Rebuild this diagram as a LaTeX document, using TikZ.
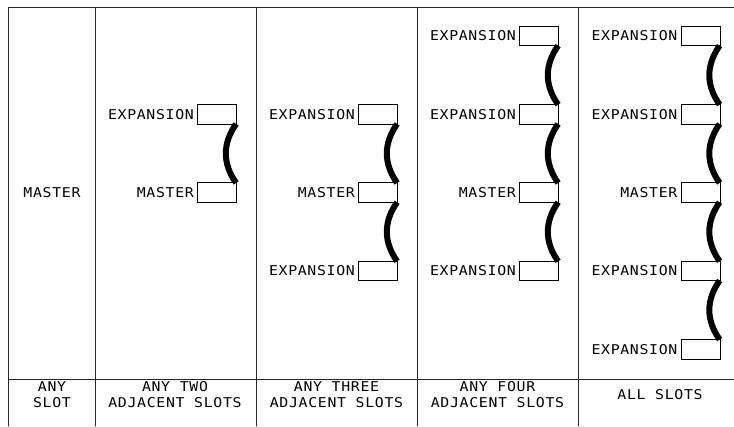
\documentclass[tikz,border=0pt]{standalone}
\usepackage{fontspec}
\newfontfamily\cadfont[LetterSpace=5,FakeStretch=1.1]{DejaVu Sans Mono}
\usetikzlibrary{calc,positioning}
\begin{document}
\begin{tikzpicture}[x=1pt,y=-1pt,
  slot/.style={draw, line width=0.8pt, minimum width=39pt, minimum height=19.5pt, inner sep=0pt},
  lbl/.style={font=\cadfont\fontsize{13.5}{16}\selectfont, inner sep=0pt, align=center},
  link/.style={line width=6pt, line cap=butt},
  gridline/.style={line width=1pt, draw=black!85}]
\useasboundingbox (0,0) rectangle (734,426);
% frame
\draw[gridline] (8,7) -- (734,7);
\foreach \x in {8,95,256,417,578} \draw[gridline] (\x,7) -- (\x,426);
\draw[gridline] (8,379) -- (734,379);
% column 1
\node[lbl] (m1) at (52,192.6) {MASTER};
% column 2
\node[slot] (b21) at (217,114.3) {};
\node[slot] (b22) at (217,192.6) {};
% column 3
\node[slot] (b31) at (378,114.3) {};
\node[slot] (b32) at (378,192.6) {};
\node[slot] (b33) at (378,270.9) {};
% column 4
\node[slot] (b41) at (539,36) {};
\node[slot] (b42) at (539,114.3) {};
\node[slot] (b43) at (539,192.6) {};
\node[slot] (b44) at (539,270.9) {};
% column 5
\node[slot] (b51) at (700.5,36) {};
\node[slot] (b52) at (700.5,114.3) {};
\node[slot] (b53) at (700.5,192.6) {};
\node[slot] (b54) at (700.5,270.9) {};
\node[slot] (b55) at (700.5,349.2) {};
% labels
\node[lbl, left=3pt of b21] (t21) {EXPANSION};
\node[lbl, left=3pt of b22] (t22) {MASTER};
\node[lbl, left=3pt of b31] (t31) {EXPANSION};
\node[lbl, left=3pt of b32] (t32) {MASTER};
\node[lbl, left=3pt of b33] (t33) {EXPANSION};
\node[lbl, left=3pt of b41] (t41) {EXPANSION};
\node[lbl, left=3pt of b42] (t42) {EXPANSION};
\node[lbl, left=3pt of b43] (t43) {MASTER};
\node[lbl, left=3pt of b44] (t44) {EXPANSION};
\node[lbl, left=3pt of b51] (t51) {EXPANSION};
\node[lbl, left=3pt of b52] (t52) {EXPANSION};
\node[lbl, left=3pt of b53] (t53) {MASTER};
\node[lbl, left=3pt of b54] (t54) {EXPANSION};
\node[lbl, left=3pt of b55] (t55) {EXPANSION};
% links
\foreach \a/\b in {b21/b22, b31/b32, b32/b33, b41/b42, b42/b43, b43/b44, b51/b52, b52/b53, b53/b54, b54/b55}
  \draw[link] ($(\a.south east)+(-0.8,-0.5)$) .. controls ($(\a.south east)+(-14.5,19)$) and ($(\b.north east)+(-14.5,-19)$) .. ($(\b.north east)+(-0.8,0.5)$);
% bottom captions
\node[lbl] (c1) at (52,395) {ANY\\SLOT};
\node[lbl] (c2) at (175,395) {ANY TWO\\ADJACENT SLOTS};
\node[lbl] (c3) at (336.5,395) {ANY THREE\\ADJACENT SLOTS};
\node[lbl] (c4) at (497.5,395) {ANY FOUR\\ADJACENT SLOTS};
\node[lbl] (c5) at (660,395) {ALL SLOTS};
\end{tikzpicture}
\end{document}
